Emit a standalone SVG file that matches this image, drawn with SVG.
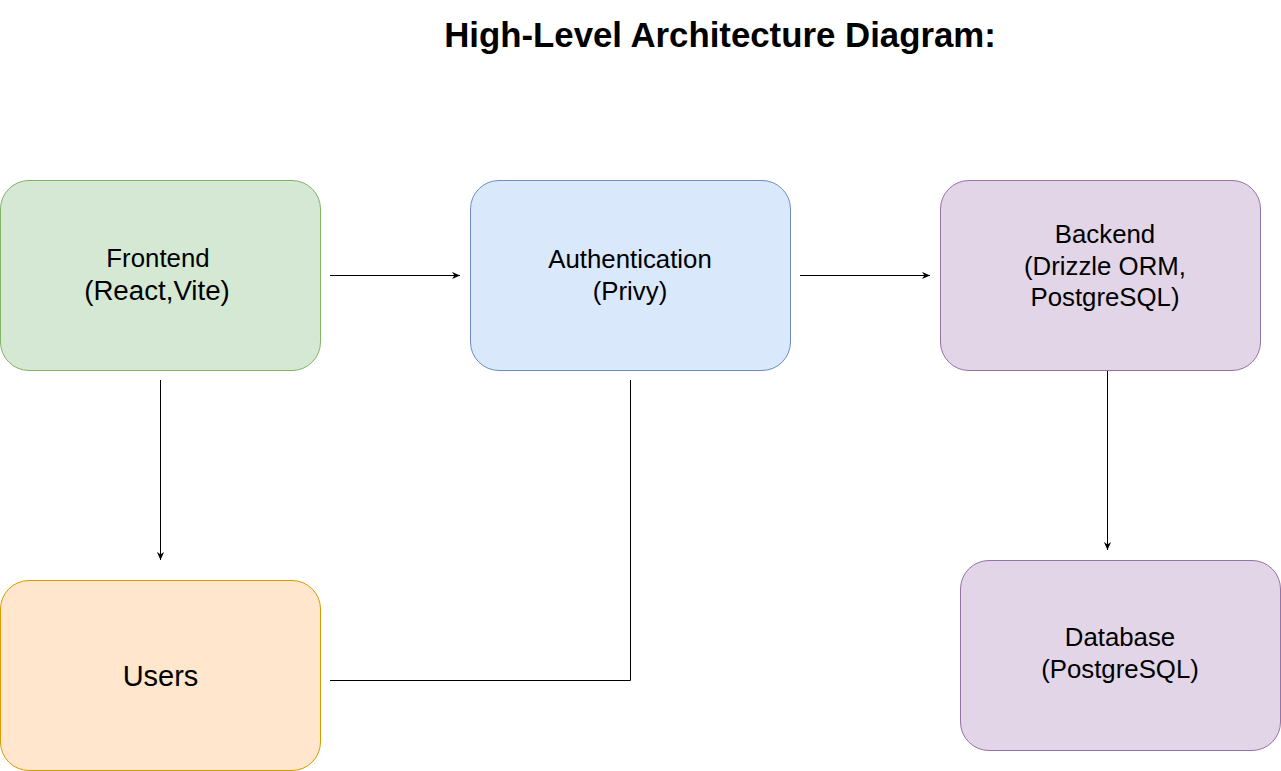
<svg xmlns="http://www.w3.org/2000/svg" width="1281" height="771" viewBox="0 0 1281 771">
  <style>
    .lbl { font-family: "Liberation Sans", Arial, Helvetica, sans-serif; font-size: 25.8px; fill: #000000; text-anchor: middle; }
    .title { font-family: "Liberation Sans", Arial, Helvetica, sans-serif; font-size: 34.8px; font-weight: bold; fill: #000000; text-anchor: middle; }
    .conn { fill: none; stroke: #000000; stroke-width: 1; }
    .green { fill: #d5e8d4; stroke: #82b366; }
    .blue { fill: #dae8fc; stroke: #6c8ebf; }
    .purple { fill: #e1d5e7; stroke: #9673a6; }
    .orange { fill: #ffe6cc; stroke: #d79b00; }
  </style>
  <defs>
    <marker id="arrow" viewBox="0 0 10 10" refX="10" refY="5" markerWidth="8" markerHeight="8" markerUnits="userSpaceOnUse" orient="auto">
      <path d="M0,0.5 L10,5 L0,9.5 L3,5 Z" fill="#000000"/>
    </marker>
  </defs>
  <rect width="1281" height="771" fill="#ffffff"/>
  <text id="title" class="title" x="720" y="47">High-Level Architecture Diagram:</text>

  <g id="connectors">
    <line class="conn" x1="330" y1="275.5" x2="460" y2="275.5" marker-end="url(#arrow)"/>
    <line class="conn" x1="800" y1="275.5" x2="930" y2="275.5" marker-end="url(#arrow)"/>
    <line class="conn" x1="160.5" y1="380" x2="160.5" y2="560" marker-end="url(#arrow)"/>
    <line class="conn" x1="1107.5" y1="370" x2="1107.5" y2="550" marker-end="url(#arrow)"/>
    <polyline class="conn" points="330,680.5 630.5,680.5 630.5,380"/>
  </g>

  <g id="frontend">
    <rect class="green" x="0.5" y="180.5" width="320" height="190" rx="28.5" ry="28.5"/>
    <text class="lbl" x="158" y="267">Frontend</text>
    <text class="lbl" x="157" y="300" style="font-size:27.7px">(React,Vite)</text>
  </g>

  <g id="authentication">
    <rect class="blue" x="470.5" y="180.5" width="320" height="190" rx="28.5" ry="28.5"/>
    <text class="lbl" x="630" y="268">Authentication</text>
    <text class="lbl" x="630" y="300">(Privy)</text>
  </g>

  <g id="backend">
    <rect class="purple" x="940.5" y="180.5" width="320" height="190" rx="28.5" ry="28.5"/>
    <text class="lbl" x="1105" y="243">Backend</text>
    <text class="lbl" x="1105" y="275">(Drizzle ORM,</text>
    <text class="lbl" x="1105" y="306">PostgreSQL)</text>
  </g>

  <g id="users">
    <rect class="orange" x="0.5" y="580.5" width="320" height="190" rx="28.5" ry="28.5"/>
    <text class="lbl" x="160.5" y="686" style="font-size:29px">Users</text>
  </g>

  <g id="database">
    <rect class="purple" x="960.5" y="560.5" width="320" height="190" rx="28.5" ry="28.5"/>
    <text class="lbl" x="1120" y="646">Database</text>
    <text class="lbl" x="1120" y="678">(PostgreSQL)</text>
  </g>
</svg>
